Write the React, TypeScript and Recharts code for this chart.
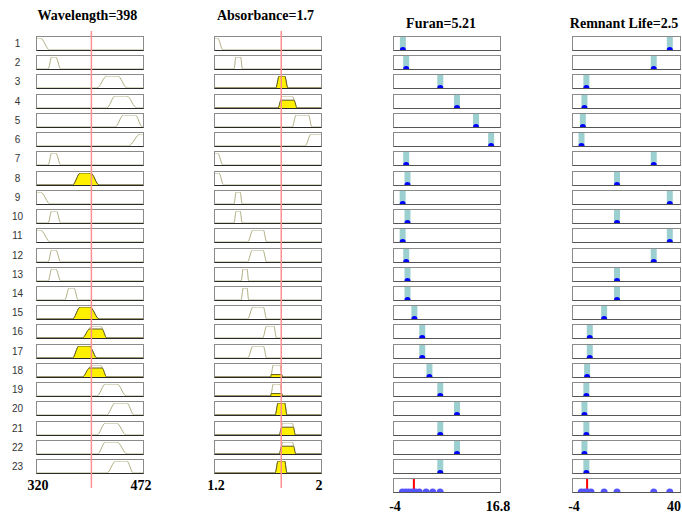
import {
  Area,
  ComposedChart,
  ReferenceLine,
  Scatter,
  XAxis,
  YAxis,
} from "recharts";

// input ranges, as printed under each column
const wavelengthRange = [320, 472];
const absorbanceRange = [1.2, 2];
const furanRange = [-4, 16.8];
const remnantRange = [-4, 40];

const titles = ["Wavelength=398", "Absorbance=1.7", "Furan=5.21", "Remnant Life=2.5"];
const rangeLabels = [
  ["320", "472"],
  ["1.2", "2"],
  ["-4", "16.8"],
  ["-4", "40"],
];

const wavelengthInput = 398;
const absorbanceInput = 1.7;

// membership functions per rule: [foot left, shoulder left, shoulder right, foot right]
const wavelengthMfs = [
  [320, 320, 325, 338],
  [336, 341, 347, 354],
  [406, 420, 436, 449],
  [420, 432, 449, 463],
  [432, 444, 461, 471],
  [451, 468, 472, 472],
  [336, 341, 347, 354],
  [371, 382, 397, 409],
  [320, 320, 325, 339],
  [336, 341, 348, 354],
  [320, 320, 325, 339],
  [336, 341, 347, 354],
  [336, 341, 347, 354],
  [360, 366, 373, 379],
  [371, 382, 396, 409],
  [385, 399, 411, 420],
  [371, 380, 395, 406],
  [385, 399, 411, 420],
  [406, 418, 435, 448],
  [420, 432, 449, 459],
  [406, 418, 434, 448],
  [407, 418, 435, 449],
  [420, 433, 449, 458],
];
const wavelengthFire = [0, 0, 0, 0, 0, 0, 0, 1, 0, 0, 0, 0, 0, 0, 1, 0.75, 1, 0.75, 0, 0, 0, 0, 0];

const absorbanceMfs = [
  [1.2, 1.2, 1.22, 1.26],
  [1.343, 1.358, 1.393, 1.407],
  [1.659, 1.684, 1.726, 1.75],
  [1.676, 1.709, 1.783, 1.82],
  [1.783, 1.812, 1.906, 1.931],
  [1.88, 1.925, 2, 2],
  [1.2, 1.2, 1.22, 1.26],
  [1.2, 1.2, 1.23, 1.265],
  [1.343, 1.36, 1.39, 1.405],
  [1.343, 1.36, 1.39, 1.405],
  [1.447, 1.486, 1.565, 1.59],
  [1.445, 1.482, 1.562, 1.59],
  [1.398, 1.412, 1.442, 1.454],
  [1.398, 1.412, 1.442, 1.454],
  [1.447, 1.486, 1.565, 1.59],
  [1.56, 1.59, 1.644, 1.664],
  [1.447, 1.486, 1.565, 1.59],
  [1.62, 1.64, 1.689, 1.709],
  [1.62, 1.64, 1.689, 1.709],
  [1.654, 1.676, 1.726, 1.743],
  [1.684, 1.713, 1.783, 1.807],
  [1.684, 1.713, 1.783, 1.81],
  [1.654, 1.676, 1.726, 1.743],
];
const absorbanceFire = [0, 0, 1, 0.65, 0, 0, 0, 0, 0, 0, 0, 0, 0, 0, 0, 0, 0, 0.2, 0.2, 1, 0.65, 0.65, 1];

// singleton outputs per rule
const furanOut = [
  -2.26, -1.61, 5.08, 8.36, 12.1, 15.06, -1.61, -1.35, -2.3, -1.35, -2.3, -1.6,
  -1.35, -1.35, 0, 1.54, 1.54, 2.95, 5.08, 8.36, 5.08, 8.36, 5.08,
];
const remnantOut = [
  35.8, 29.2, 1.5, 0.7, 0.05, -0.5, 29.2, 14.1, 35.8, 14.1, 35.8, 29.2, 14.1,
  14.1, 8.8, 2.9, 2.9, 1.8, 1.5, 0.7, 1.5, 0.7, 1.5,
];

// aggregated row
const furanAgg = [-2.35, -1.7, -1.1, -0.45, 0.2, 0.95, 2.3, 3.6, 5.05];
const furanMarker = -0.1;
const remnantAgg = [-0.6, 0.74, 2.07, 3.4, 8.8, 14.1, 29.2, 35.8];
const remnantMarker = 1.8;

const COL_X = [36, 214, 393, 572];
const COL_W = [108, 108, 108, 109];
const TITLE_X = [87.5, 265.5, 441, 624];
const TITLE_Y = [20, 20, 28, 28];
const LABEL_Y = [490, 490, 511, 511];
const ROW_TOP = 36;
const ROW_STEP = 19.23;
const BOX_H = 15;

const rowTop = (i: number) => Math.round(ROW_TOP + i * ROW_STEP);

type Pt = { x: number; y: number };

function mfPoints(mf: number[], range: number[], level: number): Pt[] {
  const [lo, hi] = range;
  const [a, b, c, d] = mf;
  const l = level;
  const x1 = a + (b - a) * l;
  const x2 = d - (d - c) * l;
  const pts: Pt[] = [];
  if (a > lo) pts.push({ x: lo, y: 0 });
  if (x1 > a) pts.push({ x: a, y: 0 });
  pts.push({ x: x1, y: l });
  if (x2 > x1) pts.push({ x: x2, y: l });
  if (d > x2) pts.push({ x: d, y: 0 });
  if (hi > d) pts.push({ x: hi, y: 0 });
  return pts;
}

function mfData(mf: number[], range: number[], level: number) {
  const rows = new Map<number, { x: number; mf: number | null; fire: number | null }>();
  const put = (p: Pt, key: "mf" | "fire") => {
    const r = rows.get(p.x) ?? { x: p.x, mf: null, fire: null };
    r[key] = p.y;
    rows.set(p.x, r);
  };
  mfPoints(mf, range, 1).forEach((p) => put(p, "mf"));
  if (level > 0) mfPoints(mf, range, level).forEach((p) => put(p, "fire"));
  return [...rows.values()].sort((p, q) => p.x - q.x);
}

const boxStyle = (col: number, i: number): React.CSSProperties => ({
  position: "absolute",
  left: COL_X[col],
  top: rowTop(i),
  width: COL_W[col],
  height: BOX_H,
  boxSizing: "border-box",
  border: "1px solid #8a8a8a",
  borderBottomColor: col < 2 ? "#2a2a2a" : "#555",
  background: "#fff",
});

function InputCell({ col, i, mf, range, level }: { col: number; i: number; mf: number[]; range: number[]; level: number }) {
  const data = mfData(mf, range, level);
  return (
    <div style={boxStyle(col, i)}>
      <ComposedChart width={COL_W[col] - 2} height={BOX_H - 2} data={data} margin={{ top: 1, right: 0, bottom: 0, left: 0 }}>
        <XAxis dataKey="x" type="number" domain={range} hide allowDataOverflow />
        <YAxis type="number" domain={[0, 1]} hide allowDataOverflow />
        <Area
          dataKey="mf"
          type="monotone"
          connectNulls
          fill="none"
          stroke="#b2b084"
          strokeWidth={1}
          isAnimationActive={false}
          dot={false}
          activeDot={false}
        />
        {level > 0 ? (
          <Area
            dataKey="fire"
            type="monotone"
            connectNulls
            fill="#fff000"
            fillOpacity={1}
            stroke="#5c5a22"
            strokeWidth={1}
            isAnimationActive={false}
            dot={false}
            activeDot={false}
          />
        ) : null}
      </ComposedChart>
    </div>
  );
}

const halfDot = (color: string, r: number) => (props: any) => {
  const { cx, cy } = props;
  return <path d={`M${cx - r},${cy} A${r},${r} 0 0 1 ${cx + r},${cy} Z`} fill={color} />;
};

const noDot = () => <g />;

function OutputCell({ col, i, value, range }: { col: number; i: number; value: number; range: number[] }) {
  return (
    <div style={boxStyle(col, i)}>
      <ComposedChart width={COL_W[col] - 2} height={BOX_H - 2} margin={{ top: 0, right: 0, bottom: 0, left: 0 }}>
        <XAxis dataKey="x" type="number" domain={range} hide allowDataOverflow />
        <YAxis dataKey="y" type="number" domain={[0, 1]} hide allowDataOverflow />
        <ReferenceLine x={value} stroke="#9ccfcf" strokeWidth={6} />
        <Scatter data={[{ x: value, y: 0 }]} shape={halfDot("#0000ff", 3)} isAnimationActive={false} />
      </ComposedChart>
    </div>
  );
}

function AggregateCell({ col, values, marker, range }: { col: number; values: number[]; marker: number; range: number[] }) {
  return (
    <div style={boxStyle(col, 23)}>
      <ComposedChart width={COL_W[col] - 2} height={BOX_H - 2} margin={{ top: 0, right: 0, bottom: 0, left: 0 }}>
        <XAxis dataKey="x" type="number" domain={range} hide allowDataOverflow />
        <YAxis dataKey="y" type="number" domain={[0, 1]} hide allowDataOverflow />
        <ReferenceLine x={marker} stroke="#ff0000" strokeWidth={2} />
        <Scatter data={values.map((x) => ({ x, y: 0 }))} shape={halfDot("#5555ff", 3.5)} isAnimationActive={false} />
      </ComposedChart>
    </div>
  );
}

function InputMarker({ col, value, range }: { col: number; value: number; range: number[] }) {
  return (
    <div style={{ position: "absolute", left: COL_X[col] + 1, top: 31, pointerEvents: "none" }}>
      <ComposedChart width={COL_W[col] - 2} height={457} margin={{ top: 0, right: 0, bottom: 0, left: 0 }}>
        <XAxis dataKey="x" type="number" domain={range} hide allowDataOverflow />
        <YAxis dataKey="y" type="number" domain={[0, 1]} hide allowDataOverflow />
        <Scatter data={[{ x: value, y: 0 }]} shape={noDot} isAnimationActive={false} />
        <ReferenceLine x={value} stroke="#ff8f8f" strokeWidth={1.5} />
      </ComposedChart>
    </div>
  );
}

export default function App() {
  return (
    <div style={{ position: "fixed", left: 0, top: 0, width: 682, height: 514, background: "#fff", overflow: "hidden" }}>
      {wavelengthMfs.map((mf, i) => (
        <InputCell key={`w${i}`} col={0} i={i} mf={mf} range={wavelengthRange} level={wavelengthFire[i]} />
      ))}
      {absorbanceMfs.map((mf, i) => (
        <InputCell key={`a${i}`} col={1} i={i} mf={mf} range={absorbanceRange} level={absorbanceFire[i]} />
      ))}
      {furanOut.map((v, i) => (
        <OutputCell key={`f${i}`} col={2} i={i} value={v} range={furanRange} />
      ))}
      {remnantOut.map((v, i) => (
        <OutputCell key={`r${i}`} col={3} i={i} value={v} range={remnantRange} />
      ))}
      <AggregateCell col={2} values={furanAgg} marker={furanMarker} range={furanRange} />
      <AggregateCell col={3} values={remnantAgg} marker={remnantMarker} range={remnantRange} />
      <InputMarker col={0} value={wavelengthInput} range={wavelengthRange} />
      <InputMarker col={1} value={absorbanceInput} range={absorbanceRange} />

      <svg width={682} height={514} style={{ position: "absolute", left: 0, top: 0, pointerEvents: "none" }}>
        {titles.map((t, c) => (
          <text
            key={t}
            x={TITLE_X[c]}
            y={TITLE_Y[c]}
            textAnchor="middle"
            fontFamily="'Liberation Serif', serif"
            fontWeight="bold"
            fontSize={14}
            fill="#000"
          >
            {t}
          </text>
        ))}
        {wavelengthMfs.map((_, i) => (
          <text
            key={`n${i}`}
            x={17.5}
            y={rowTop(i) + BOX_H / 2 + 3.5}
            textAnchor="middle"
            fontFamily="'Liberation Sans', sans-serif"
            fontSize={10}
            fill="#333"
          >
            {i + 1}
          </text>
        ))}
        {rangeLabels.map(([lo, hi], c) => (
          <g key={`l${c}`} fontFamily="'Liberation Serif', serif" fontWeight="bold" fontSize={14} fill="#000">
            <text x={COL_X[c] + 2} y={LABEL_Y[c]} textAnchor="middle">
              {lo}
            </text>
            <text
              x={c === 3 ? 681 : COL_X[c] + COL_W[c] - 3}
              y={LABEL_Y[c]}
              textAnchor={c === 3 ? "end" : "middle"}
            >
              {hi}
            </text>
          </g>
        ))}
      </svg>
    </div>
  );
}
